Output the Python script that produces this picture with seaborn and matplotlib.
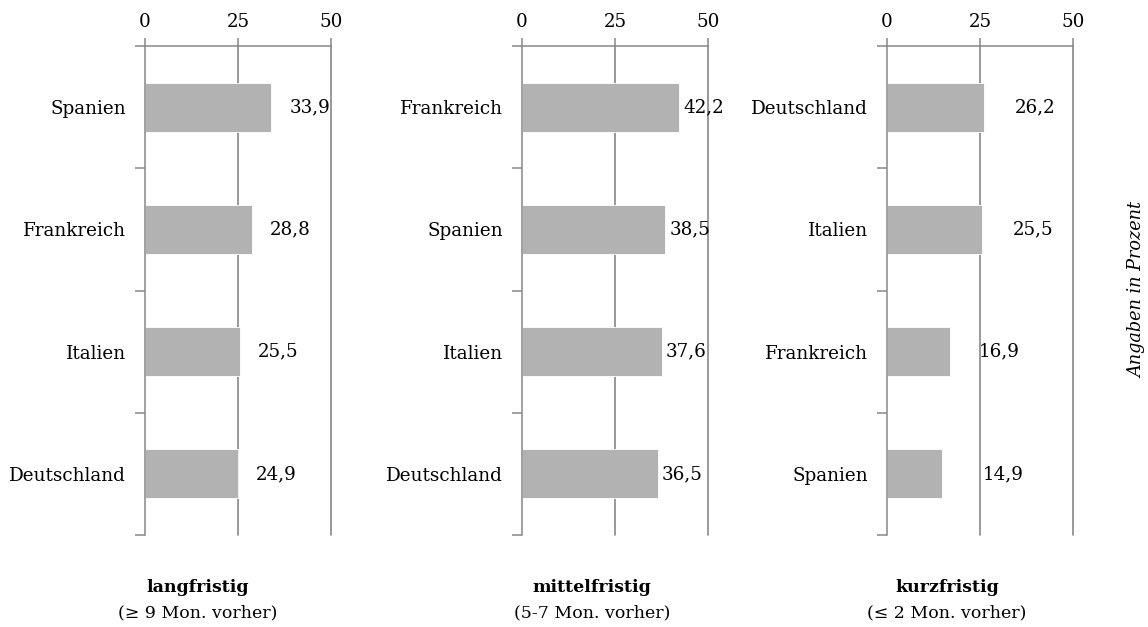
import matplotlib
matplotlib.use("Agg")
import matplotlib.pyplot as plt
from matplotlib.ticker import FixedLocator
import seaborn as sns
import pandas as pd

# Survey results: share of respondents per booking horizon (percent)
lang_countries = ["Spanien", "Frankreich", "Italien", "Deutschland"]
lang_values = [33.9, 28.8, 25.5, 24.9]

mittel_countries = ["Frankreich", "Spanien", "Italien", "Deutschland"]
mittel_values = [42.2, 38.5, 37.6, 36.5]

kurz_countries = ["Deutschland", "Italien", "Frankreich", "Spanien"]
kurz_values = [26.2, 25.5, 16.9, 14.9]

panel_titles = ["langfristig", "mittelfristig", "kurzfristig"]
panel_subtitles = ["(≥ 9 Mon. vorher)", "(5-7 Mon. vorher)", "(≤ 2 Mon. vorher)"]
x_ticks = [0, 25, 50]
side_note = "Angaben in Prozent"

# value-label offsets (points right of the bar end)
label_offsets = [
    [13, 13, 13, 13],
    [3, 3, 3, 3],
    [22, 22, 21, 29],
]

sns.set_theme(style="white")
plt.rcParams["font.family"] = ["DejaVu Serif"]
FS = 13.2
AXIS_GREY = "#878787"
BAR_GREY = "#b2b2b2"

W, H = 1148, 627
fig = plt.figure(figsize=(W / 100, H / 100), dpi=100)

panels = [
    (lang_countries, lang_values),
    (mittel_countries, mittel_values),
    (kurz_countries, kurz_values),
]
lefts = [145, 522, 887]
title_centers = [198, 592, 947]
width_px = 186
top_px, bottom_px = 46, 535

for i, (countries, values) in enumerate(panels):
    ax = fig.add_axes([lefts[i] / W, 1 - bottom_px / H, width_px / W, (bottom_px - top_px) / H])
    df = pd.DataFrame({"Land": countries, "Wert": values})
    sns.barplot(data=df, x="Wert", y="Land", order=countries, orient="h",
                color=BAR_GREY, width=0.4, saturation=1, ax=ax,
                edgecolor="white", linewidth=0.6)
    ax.set_xlim(0, 50)
    ax.set_ylim(3.5, -0.5)
    ax.set_xlabel("")
    ax.set_ylabel("")

    # x axis on top
    ax.xaxis.tick_top()
    ax.set_xticks(x_ticks)
    ax.set_xticklabels([str(t) for t in x_ticks], fontsize=FS, color="black")
    ax.tick_params(axis="x", which="major", direction="out", length=6,
                   width=1.1, color=AXIS_GREY, pad=5)

    # category labels without tick marks, separators as minor ticks
    ax.tick_params(axis="y", which="major", length=0, pad=13.5, labelsize=FS, labelcolor="black")
    ax.yaxis.set_minor_locator(FixedLocator([-0.5, 0.5, 1.5, 2.5, 3.5]))
    ax.tick_params(axis="y", which="minor", direction="out", length=7,
                   width=1.1, color=AXIS_GREY, left=True)

    for s in ["right", "bottom"]:
        ax.spines[s].set_visible(False)
    for s in ["left", "top"]:
        ax.spines[s].set_color(AXIS_GREY)
        ax.spines[s].set_linewidth(1.1)

    for gx in x_ticks[1:]:
        ax.axvline(gx, color=AXIS_GREY, linewidth=1.2, zorder=0, clip_on=False)

    for j, v in enumerate(values):
        ax.annotate(f"{v:.1f}".replace(".", ","), xy=(v, j), xytext=(label_offsets[i][j], 0),
                    textcoords="offset points", ha="left", va="center",
                    fontsize=FS, color="black")

    cx = title_centers[i] / W
    fig.text(cx, 1 - 588 / H, panel_titles[i], ha="center", va="center",
             fontsize=12.5, fontweight="bold", color="black")
    fig.text(cx, 1 - 613 / H, panel_subtitles[i], ha="center", va="center",
             fontsize=12.5, color="black")

fig.text(1137 / W, 1 - 290 / H, side_note, rotation=90, ha="center", va="center",
         fontsize=12.7, style="italic", color="black")

fig.savefig("out.png", dpi=100)
